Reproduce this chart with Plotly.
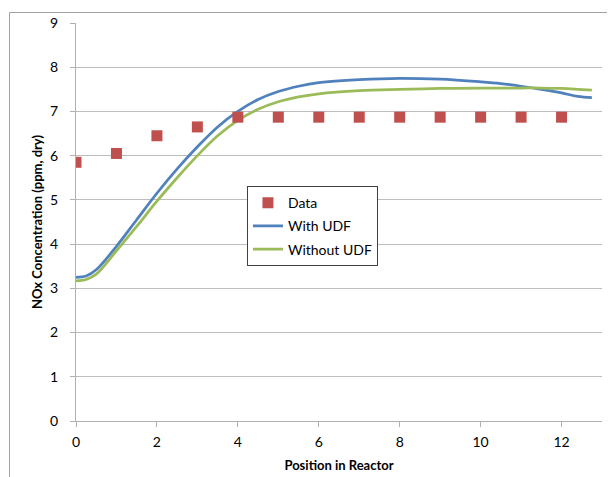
import plotly.graph_objects as go

data_x = [0, 1, 2, 3, 4, 5, 6, 7, 8, 9, 10, 11, 12]
data_y = [5.85, 6.05, 6.45, 6.65, 6.87, 6.87, 6.87, 6.87, 6.87, 6.87, 6.87, 6.87, 6.87]

curve_x = [0, 0.25, 0.5, 1, 1.5, 2, 2.5, 3, 3.5, 4, 4.5, 5, 5.5, 6, 7, 8, 9, 10, 10.5, 11, 11.5, 12, 12.4, 12.75]
with_udf = [3.25, 3.28, 3.42, 3.95, 4.55, 5.15, 5.7, 6.2, 6.65, 7.0, 7.27, 7.45, 7.57, 7.65, 7.72, 7.75, 7.73, 7.67, 7.63, 7.57, 7.5, 7.42, 7.34, 7.31]
without_udf = [3.17, 3.2, 3.32, 3.85, 4.4, 4.97, 5.5, 6.0, 6.45, 6.8, 7.05, 7.22, 7.33, 7.4, 7.47, 7.5, 7.52, 7.53, 7.53, 7.53, 7.53, 7.52, 7.5, 7.48]

x_ticks = [0, 2, 4, 6, 8, 10, 12]
y_ticks = [0, 1, 2, 3, 4, 5, 6, 7, 8, 9]

FONT = "Lato"

fig = go.Figure()
fig.add_trace(go.Scatter(x=curve_x, y=with_udf, mode="lines", name="With UDF",
                         line=dict(color="#4f81bd", width=2.75, shape="spline"),
                         legendgroup="b", legendrank=2))
fig.add_trace(go.Scatter(x=curve_x, y=without_udf, mode="lines", name="Without UDF",
                         line=dict(color="#9bbb59", width=2.75, shape="spline"),
                         legendgroup="c", legendrank=3))
fig.add_trace(go.Scatter(x=data_x, y=data_y, mode="markers", name="Data",
                         marker=dict(symbol="square", size=11, color="#c0504d"),
                         legendgroup="a", legendrank=1))

fig.update_layout(
    width=607, height=469,
    margin=dict(l=68, r=13, t=15, b=56),
    paper_bgcolor="white", plot_bgcolor="white",
    font=dict(family=FONT, size=14, color="black"),
    showlegend=True,
    legend=dict(x=0.325, y=0.59, xanchor="left", yanchor="top",
                bgcolor="white", bordercolor="#404040", borderwidth=1,
                font=dict(family=FONT, size=14), tracegroupgap=2,
                itemwidth=30),
    xaxis=dict(range=[0, 13], tickvals=x_ticks, ticktext=[str(v) for v in x_ticks],
               showgrid=False, zeroline=False, showline=True, linecolor="#b0b0b0", linewidth=1,
               ticks="outside", ticklen=5, tickcolor="#b0b0b0", ticklabelstandoff=3,
               automargin=False,
               title=dict(text="<b>Position in Reactor</b>", font=dict(family=FONT, size=13), standoff=12)),
    yaxis=dict(range=[0, 9], tickvals=y_ticks, ticktext=[str(v) for v in y_ticks],
               showgrid=True, gridcolor="#bdbdbd", gridwidth=1, zeroline=False,
               showline=True, linecolor="#b0b0b0", linewidth=1,
               ticks="outside", ticklen=5, tickcolor="#b0b0b0", ticklabelstandoff=9,
               automargin=False,
               title=dict(text="<b>NOx Concentration (ppm, dry)</b>", font=dict(family=FONT, size=13), standoff=4)),
    shapes=[dict(type="rect", xref="paper", yref="paper",
                 x0=-0.1264, x1=2, y0=-2, y1=1.0264,
                 line=dict(color="#a0a0a0", width=1), layer="below")],
)

fig.write_html("out.html")
